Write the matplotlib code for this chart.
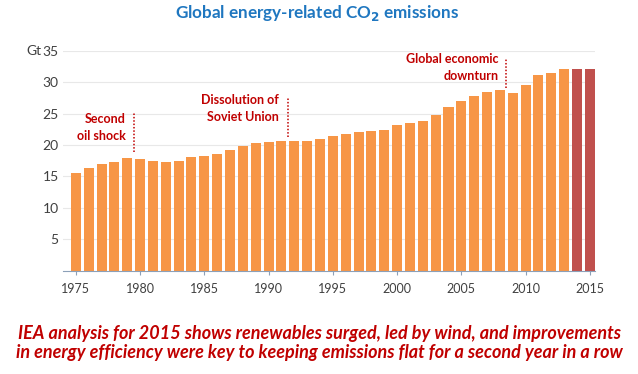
import matplotlib.pyplot as plt

# Global energy-related CO2 emissions (Gt)
years = list(range(1975, 2016))
emissions = [15.5, 16.3, 17.0, 17.3, 17.9, 17.7, 17.5, 17.2, 17.4, 18.1,
             18.3, 18.6, 19.2, 19.8, 20.3, 20.4, 20.7, 20.7, 20.7, 20.9,
             21.4, 21.8, 22.0, 22.25, 22.4, 23.2, 23.5, 23.8, 24.8, 26.0,
             27.0, 27.75, 28.5, 28.8, 28.2, 29.6, 31.1, 31.4, 32.1, 32.1, 32.1]
highlight_years = [2014, 2015]

# annotations: (x of dotted line, line bottom, line top, text, text x, text y)
notes = [
    (1979.55, 18.8, 25.2, "Second\noil shock", 1978.9, 22.7),
    (1991.5, 21.3, 27.6, "Dissolution of\nSoviet Union", 1990.8, 25.8),
    (2008.45, 29.1, 33.9, "Global economic\ndownturn", 2007.9, 32.3),
]

orange = "#F79646"
darkred = "#C0504D"
textred = "#C00000"

plt.rcParams['font.family'] = ['Lato', 'DejaVu Sans']

fig = plt.figure(figsize=(6.38, 3.74), dpi=100)
ax = fig.add_axes([0.0987, 0.2767, 0.8339, 0.5877])

colors = [darkred if y in highlight_years else orange for y in years]
ax.bar(years, emissions, width=0.78, color=colors, zorder=2)

ax.set_xlim(1974.0, 2015.4)
ax.set_ylim(0, 35)
ax.set_yticks(range(5, 36, 5))
ax.set_xticks(range(1975, 2016, 5))
ax.yaxis.grid(True, color="#E8E8E8", linewidth=0.8, zorder=0)
ax.tick_params(axis='y', length=0, labelsize=10, labelcolor="#404040", pad=3)
ax.tick_params(axis='x', length=3, color="#8CA0B8", labelsize=9, labelcolor="#404040", pad=6)
for s in ['top', 'right', 'left']:
    ax.spines[s].set_visible(False)
ax.spines['bottom'].set_color("#8CA0B8")

ax.text(-0.04, 35, "Gt", transform=ax.get_yaxis_transform(), ha='right', va='center',
        fontsize=10, color="#404040")

for x, y0, y1, txt, tx, ty in notes:
    ax.plot([x, x], [y0, y1], linestyle=(0, (1, 1.2)), color=textred, linewidth=1.1, zorder=3)
    ax.text(tx, ty, txt, ha='right', va='center', fontsize=9, fontweight='bold',
            color=textred, linespacing=1.5)

fig.text(0.497, 0.965, "Global energy-related CO$_\\mathbf{2}$ emissions", ha='center', va='center',
         fontsize=12.3, fontweight='bold', color="#1F77C0")

fig.text(0.5, 0.083,
         "IEA analysis for 2015 shows renewables surged, led by wind, and improvements\n"
         "in energy efficiency were key to keeping emissions flat for a second year in a row",
         ha='center', va='center', fontsize=13, fontstyle='italic', fontweight='bold',
         color=textred, linespacing=1.2)

fig.savefig("out.png", dpi=100)
